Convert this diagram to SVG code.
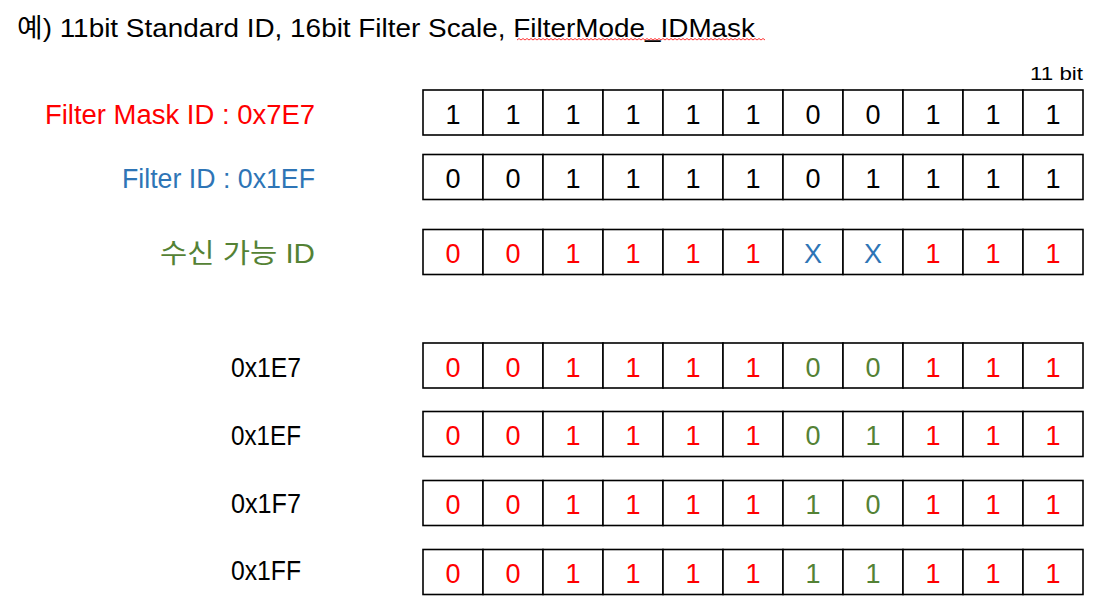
<svg xmlns="http://www.w3.org/2000/svg" width="1117" height="616" viewBox="0 0 1117 616">
<style>
text{font-family:"Liberation Sans","Noto Sans CJK KR",sans-serif;}
.t{font-size:26px;fill:#000;}
.lbl{font-size:27px;}
.c{fill:#fff;stroke:#000;stroke-width:1.6;}
.d{font-size:27px;text-anchor:middle;}
.k{fill:#000;}
.r{fill:#FF0000;}
.b{fill:#2E75B6;}
.g{fill:#548235;}
</style>
<rect width="1117" height="616" fill="#fff"/>
<g id="title">
<text class="t" x="17" y="37" textLength="738" lengthAdjust="spacingAndGlyphs">예) 11bit Standard ID, 16bit Filter Scale, FilterMode_IDMask</text>
<path d="M517,40 l2,-1.5 l2,1.5 l2,-1.5 l2,1.5 l2,-1.5 l2,1.5 l2,-1.5 l2,1.5 l2,-1.5 l2,1.5 l2,-1.5 l2,1.5 l2,-1.5 l2,1.5 l2,-1.5 l2,1.5 l2,-1.5 l2,1.5 l2,-1.5 l2,1.5 l2,-1.5 l2,1.5 l2,-1.5 l2,1.5 l2,-1.5 l2,1.5 l2,-1.5 l2,1.5 l2,-1.5 l2,1.5 l2,-1.5 l2,1.5 l2,-1.5 l2,1.5 l2,-1.5 l2,1.5 l2,-1.5 l2,1.5 l2,-1.5 l2,1.5 l2,-1.5 l2,1.5 l2,-1.5 l2,1.5 l2,-1.5 l2,1.5 l2,-1.5 l2,1.5 l2,-1.5 l2,1.5 l2,-1.5 l2,1.5 l2,-1.5 l2,1.5 l2,-1.5 l2,1.5 l2,-1.5 l2,1.5 l2,-1.5 l2,1.5 l2,-1.5 l2,1.5 l2,-1.5 l2,1.5 l2,-1.5 l2,1.5 l2,-1.5 l2,1.5 l2,-1.5 l2,1.5 l2,-1.5 l2,1.5 l2,-1.5 l2,1.5 l2,-1.5 l2,1.5 l2,-1.5 l2,1.5 l2,-1.5 l2,1.5 l2,-1.5 l2,1.5 l2,-1.5 l2,1.5 l2,-1.5 l2,1.5 l2,-1.5 l2,1.5 l2,-1.5 l2,1.5 l2,-1.5 l2,1.5 l2,-1.5 l2,1.5 l2,-1.5 l2,1.5 l2,-1.5 l2,1.5 l2,-1.5 l2,1.5 l2,-1.5 l2,1.5 l2,-1.5 l2,1.5 l2,-1.5 l2,1.5 l2,-1.5 l2,1.5 l2,-1.5 l2,1.5 l2,-1.5 l2,1.5 l2,-1.5 l2,1.5 l2,-1.5 l2,1.5 l2,-1.5 l2,1.5 l2,-1.5 l2,1.5 l2,-1.5 l2,1.5 l2,-1.5 l2,1.5" fill="none" stroke="#FF0000" stroke-width="0.8"/>
</g>
<g id="labels">
<text class="lbl r" x="315" y="123.5" text-anchor="end" textLength="270" lengthAdjust="spacingAndGlyphs">Filter Mask ID : 0x7E7</text>
<text class="lbl b" x="315" y="188.3" text-anchor="end" textLength="193" lengthAdjust="spacingAndGlyphs">Filter ID : 0x1EF</text>
<text class="lbl g" x="315" y="262.7" text-anchor="end" textLength="155" lengthAdjust="spacingAndGlyphs">수신 가능 ID</text>
<text class="k" x="1083" y="80" text-anchor="end" font-size="19" textLength="53" lengthAdjust="spacingAndGlyphs">11 bit</text>
<text class="lbl k" x="231" y="376.7" textLength="70" lengthAdjust="spacingAndGlyphs">0x1E7</text>
<text class="lbl k" x="231" y="445" textLength="70" lengthAdjust="spacingAndGlyphs">0x1EF</text>
<text class="lbl k" x="231" y="512.7" textLength="70" lengthAdjust="spacingAndGlyphs">0x1F7</text>
<text class="lbl k" x="231" y="580" textLength="70" lengthAdjust="spacingAndGlyphs">0x1FF</text>
</g>
<defs>
<g id="cells">
<rect class="c" x="423" y="0" width="60" height="45"/>
<rect class="c" x="483" y="0" width="60" height="45"/>
<rect class="c" x="543" y="0" width="60" height="45"/>
<rect class="c" x="603" y="0" width="60" height="45"/>
<rect class="c" x="663" y="0" width="60" height="45"/>
<rect class="c" x="723" y="0" width="60" height="45"/>
<rect class="c" x="783" y="0" width="60" height="45"/>
<rect class="c" x="843" y="0" width="60" height="45"/>
<rect class="c" x="903" y="0" width="60" height="45"/>
<rect class="c" x="963" y="0" width="60" height="45"/>
<rect class="c" x="1023" y="0" width="60" height="45"/>
</g>
</defs>
<g id="row-mask" transform="translate(0,90)">
<use href="#cells"/>
<g class="d k">
<text x="453" y="33.5">1</text><text x="513" y="33.5">1</text><text x="573" y="33.5">1</text><text x="633" y="33.5">1</text><text x="693" y="33.5">1</text><text x="753" y="33.5">1</text><text x="813" y="33.5">0</text><text x="873" y="33.5">0</text><text x="933" y="33.5">1</text><text x="993" y="33.5">1</text><text x="1053" y="33.5">1</text>
</g>
</g>
<g id="row-filter" transform="translate(0,154.5)">
<use href="#cells"/>
<g class="d k">
<text x="453" y="33.5">0</text><text x="513" y="33.5">0</text><text x="573" y="33.5">1</text><text x="633" y="33.5">1</text><text x="693" y="33.5">1</text><text x="753" y="33.5">1</text><text x="813" y="33.5">0</text><text x="873" y="33.5">1</text><text x="933" y="33.5">1</text><text x="993" y="33.5">1</text><text x="1053" y="33.5">1</text>
</g>
</g>
<g id="row-accept" transform="translate(0,229.5)">
<use href="#cells"/>
<g class="d">
<text class="r" x="453" y="33.5">0</text><text class="r" x="513" y="33.5">0</text><text class="r" x="573" y="33.5">1</text><text class="r" x="633" y="33.5">1</text><text class="r" x="693" y="33.5">1</text><text class="r" x="753" y="33.5">1</text><text class="b" x="813" y="33.5">X</text><text class="b" x="873" y="33.5">X</text><text class="r" x="933" y="33.5">1</text><text class="r" x="993" y="33.5">1</text><text class="r" x="1053" y="33.5">1</text>
</g>
</g>
<g id="row-1E7" transform="translate(0,343)">
<use href="#cells"/>
<g class="d">
<text class="r" x="453" y="33.5">0</text><text class="r" x="513" y="33.5">0</text><text class="r" x="573" y="33.5">1</text><text class="r" x="633" y="33.5">1</text><text class="r" x="693" y="33.5">1</text><text class="r" x="753" y="33.5">1</text><text class="g" x="813" y="33.5">0</text><text class="g" x="873" y="33.5">0</text><text class="r" x="933" y="33.5">1</text><text class="r" x="993" y="33.5">1</text><text class="r" x="1053" y="33.5">1</text>
</g>
</g>
<g id="row-1EF" transform="translate(0,411.5)">
<use href="#cells"/>
<g class="d">
<text class="r" x="453" y="33.5">0</text><text class="r" x="513" y="33.5">0</text><text class="r" x="573" y="33.5">1</text><text class="r" x="633" y="33.5">1</text><text class="r" x="693" y="33.5">1</text><text class="r" x="753" y="33.5">1</text><text class="g" x="813" y="33.5">0</text><text class="g" x="873" y="33.5">1</text><text class="r" x="933" y="33.5">1</text><text class="r" x="993" y="33.5">1</text><text class="r" x="1053" y="33.5">1</text>
</g>
</g>
<g id="row-1F7" transform="translate(0,480.5)">
<use href="#cells"/>
<g class="d">
<text class="r" x="453" y="33.5">0</text><text class="r" x="513" y="33.5">0</text><text class="r" x="573" y="33.5">1</text><text class="r" x="633" y="33.5">1</text><text class="r" x="693" y="33.5">1</text><text class="r" x="753" y="33.5">1</text><text class="g" x="813" y="33.5">1</text><text class="g" x="873" y="33.5">0</text><text class="r" x="933" y="33.5">1</text><text class="r" x="993" y="33.5">1</text><text class="r" x="1053" y="33.5">1</text>
</g>
</g>
<g id="row-1FF" transform="translate(0,549.5)">
<use href="#cells"/>
<g class="d">
<text class="r" x="453" y="33.5">0</text><text class="r" x="513" y="33.5">0</text><text class="r" x="573" y="33.5">1</text><text class="r" x="633" y="33.5">1</text><text class="r" x="693" y="33.5">1</text><text class="r" x="753" y="33.5">1</text><text class="g" x="813" y="33.5">1</text><text class="g" x="873" y="33.5">1</text><text class="r" x="933" y="33.5">1</text><text class="r" x="993" y="33.5">1</text><text class="r" x="1053" y="33.5">1</text>
</g>
</g>
<g id="connectors"/>
</svg>
